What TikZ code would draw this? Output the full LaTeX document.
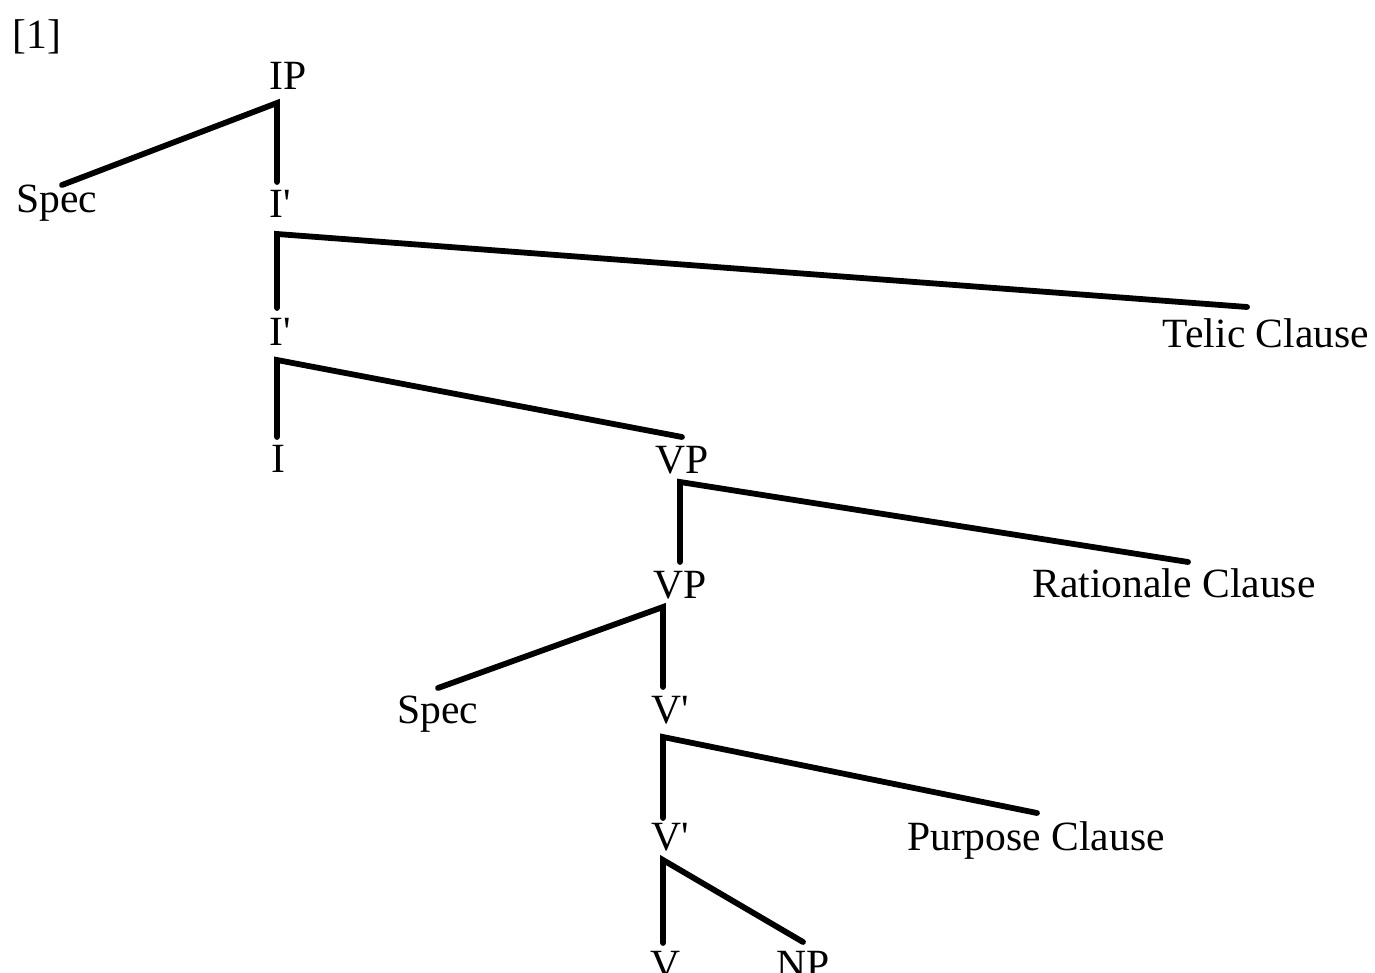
\documentclass[tikz,border=0pt]{standalone}
\usepackage{fontspec}
\setmainfont{Liberation Serif}
\begin{document}
\begin{tikzpicture}[x=0.5pt,y=-0.5pt,
  lbl/.style={anchor=base,inner sep=0pt,font=\fontsize{20.8pt}{24pt}\selectfont},
  branch/.style={line width=2.9pt,line cap=round,line join=miter}]
\useasboundingbox (0,0) rectangle (1375,973);
% labels
\node[lbl] (ex) at (37,49) {[1]};
\node[lbl] (ip) at (288,90) {IP};
\node[lbl] (spec1) at (57,213) {Spec};
\node[lbl] (ibar1) at (280,218) {I\textquotesingle};
\node[lbl] (ibar2) at (280,345) {I\textquotesingle};
\node[lbl] (telic) at (1266,347) {Telic Clause};
\node[lbl] (i) at (278,472) {I};
\node[lbl] (vp1) at (682,473) {VP};
\node[lbl] (vp2) at (680,598) {VP};
\node[lbl] (rat) at (1174,597) {Rationale Clause};
\node[lbl] (spec2) at (438,723) {Spec};
\node[lbl] (vbar1) at (670,723) {V\textquotesingle};
\node[lbl] (vbar2) at (670,850) {V\textquotesingle};
\node[lbl] (purp) at (1036,850) {Purpose Clause};
\node[lbl] (v) at (666,978) {V};
\node[lbl] (np) at (803,978) {NP};
% branch points
\coordinate (ipA) at (277,103);
\coordinate (ipB) at (277,182);
\coordinate (specA) at (62,185);
\coordinate (i1A) at (277,234);
\coordinate (i1B) at (277,308);
\coordinate (telA) at (1247,307);
\coordinate (i2A) at (277,360);
\coordinate (i2B) at (277,437);
\coordinate (vp1E) at (682,437);
\coordinate (vp1A) at (680,482);
\coordinate (vp1B) at (680,562);
\coordinate (ratA) at (1188,562);
\coordinate (vp2A) at (663,607);
\coordinate (vp2B) at (663,687);
\coordinate (spec2A) at (438,688);
\coordinate (v1A) at (663,737);
\coordinate (v1B) at (663,818);
\coordinate (purA) at (1037,813);
\coordinate (v2A) at (663,860);
\coordinate (v2B) at (663,943);
\coordinate (npA) at (803,942);
% branches
\draw[branch] (specA) -- (ipA) -- (ipB);
\draw[branch] (i1B) -- (i1A) -- (telA);
\draw[branch] (i2B) -- (i2A) -- (vp1E);
\draw[branch] (vp1B) -- (vp1A) -- (ratA);
\draw[branch] (spec2A) -- (vp2A) -- (vp2B);
\draw[branch] (v1B) -- (v1A) -- (purA);
\draw[branch] (v2B) -- (v2A) -- (npA);
\end{tikzpicture}
\end{document}
